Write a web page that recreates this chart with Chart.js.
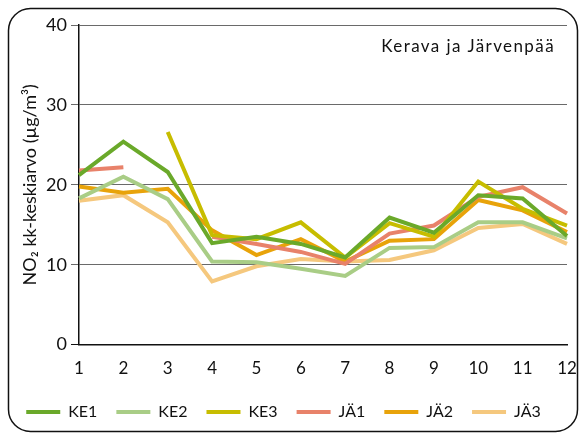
<!DOCTYPE html>
<html>
<head>
<meta charset="utf-8">
<script src="https://cdn.jsdelivr.net/npm/chart.js@4"></script>
<style>
  html, body { margin: 0; padding: 0; background: #fff; }
  canvas { display: block; }
</style>
</head>
<body>
<canvas id="chart1" width="585" height="439"></canvas>
<script>
"use strict";

var months = ['1', '2', '3', '4', '5', '6', '7', '8', '9', '10', '11', '12'];
var ke1 = [21.2, 25.4, 21.6, 12.7, 13.5, 12.6, 10.9, 15.9, 14.0, 18.7, 18.3, 13.6];
var ke2 = [18.3, 21.0, 18.2, 10.4, 10.3, 9.5, 8.6, 12.1, 12.2, 15.3, 15.3, 13.3];
var ke3 = [null, null, 26.6, 13.7, 13.2, 15.3, 10.9, 15.2, 13.5, 20.4, 17.0, 14.9];
var ja1 = [21.8, 22.2, null, 13.5, 12.6, 11.6, 10.1, 13.9, 14.9, 18.5, 19.7, 16.4];
var ja2 = [19.8, 19.0, 19.5, 14.3, 11.2, 13.2, 10.4, 13.0, 13.2, 18.1, 16.8, 14.1];
var ja3 = [18.0, 18.7, 15.3, 7.9, 9.8, 10.7, 10.4, 10.6, 11.8, 14.6, 15.1, 12.6];
var yTicks = [0, 10, 20, 30, 40];

var fontFamily = "Lato, 'DejaVu Sans', sans-serif";

var series = [
  { label: 'KE1', data: ke1, color: '#6aa92a' },
  { label: 'KE2', data: ke2, color: '#a9cd86' },
  { label: 'KE3', data: ke3, color: '#c7bd00' },
  { label: 'JÄ1', data: ja1, color: '#e8826a' },
  { label: 'JÄ2', data: ja2, color: '#e8a30a' },
  { label: 'JÄ3', data: ja3, color: '#f5c87e' }
];

// rounded frame + place name
var frame = {
  id: 'frame',
  beforeDraw: function (chart) {
    var c = chart.ctx;
    c.save();
    c.fillStyle = '#fff';
    c.fillRect(0, 0, chart.width, chart.height);
    c.beginPath();
    c.roundRect(8.5, 8.5, 569, 423, 22);
    c.lineWidth = 1.5;
    c.strokeStyle = '#111';
    c.stroke();
    c.restore();
  },
  afterDraw: function (chart) {
    var c = chart.ctx;
    var a = chart.chartArea;
    c.save();
    c.font = '17px ' + fontFamily;
    c.letterSpacing = '1.4px';
    c.fillStyle = '#111';
    c.textAlign = 'right';
    c.textBaseline = 'middle';
    c.fillText('Kerava ja Järvenpää', a.right - 12, 47);
    c.restore();
  }
};

var ctx = document.getElementById('chart1').getContext('2d');
new Chart(ctx, {
  type: 'line',
  data: {
    labels: months,
    datasets: series.map(function (s) {
      return {
        label: s.label,
        data: s.data,
        borderColor: s.color,
        backgroundColor: s.color,
        borderWidth: 4,
        pointRadius: 0,
        tension: 0,
        spanGaps: false
      };
    })
  },
  options: {
    responsive: false,
    animation: false,
    devicePixelRatio: 1,
    layout: {
      padding: { left: 0, right: 18, top: 25, bottom: 9 }
    },
    plugins: {
      legend: {
        display: true,
        position: 'bottom',
        labels: {
          boxWidth: 34,
          boxHeight: 4,
          padding: 19,
          color: '#111',
          font: { family: fontFamily, size: 16 },
          generateLabels: function (chart) {
            var items = Chart.defaults.plugins.legend.labels.generateLabels(chart);
            items.forEach(function (it) { it.lineWidth = 0; });
            return items;
          }
        }
      },
      tooltip: { enabled: false }
    },
    scales: {
      x: {
        offset: false,
        grid: { display: false },
        border: { display: true, color: '#111', width: 1.5 },
        ticks: {
          color: '#111',
          padding: 6,
          autoSkip: false,
          maxRotation: 0,
          font: { family: fontFamily, size: 17 }
        }
      },
      y: {
        min: 0,
        max: 40,
        afterFit: function (scale) { scale.width = 79; },
        afterBuildTicks: function (scale) {
          scale.ticks = yTicks.map(function (v) { return { value: v }; });
        },
        grid: {
          color: function (c) { return c.tick && c.tick.value === 0 ? '#111' : '#6a6a6a'; },
          lineWidth: 1,
          tickLength: 8
        },
        border: { display: true, color: '#111', width: 1.5 },
        ticks: {
          color: '#111',
          padding: 4,
          font: { family: fontFamily, size: 18 }
        },
        title: {
          display: true,
          text: 'NO₂ kk-keskiarvo (µg/m³)',
          color: '#111',
          padding: { top: 19, bottom: 0 },
          font: { family: fontFamily, size: 18 }
        }
      }
    }
  },
  plugins: [frame]
});
</script>
</body>
</html>
